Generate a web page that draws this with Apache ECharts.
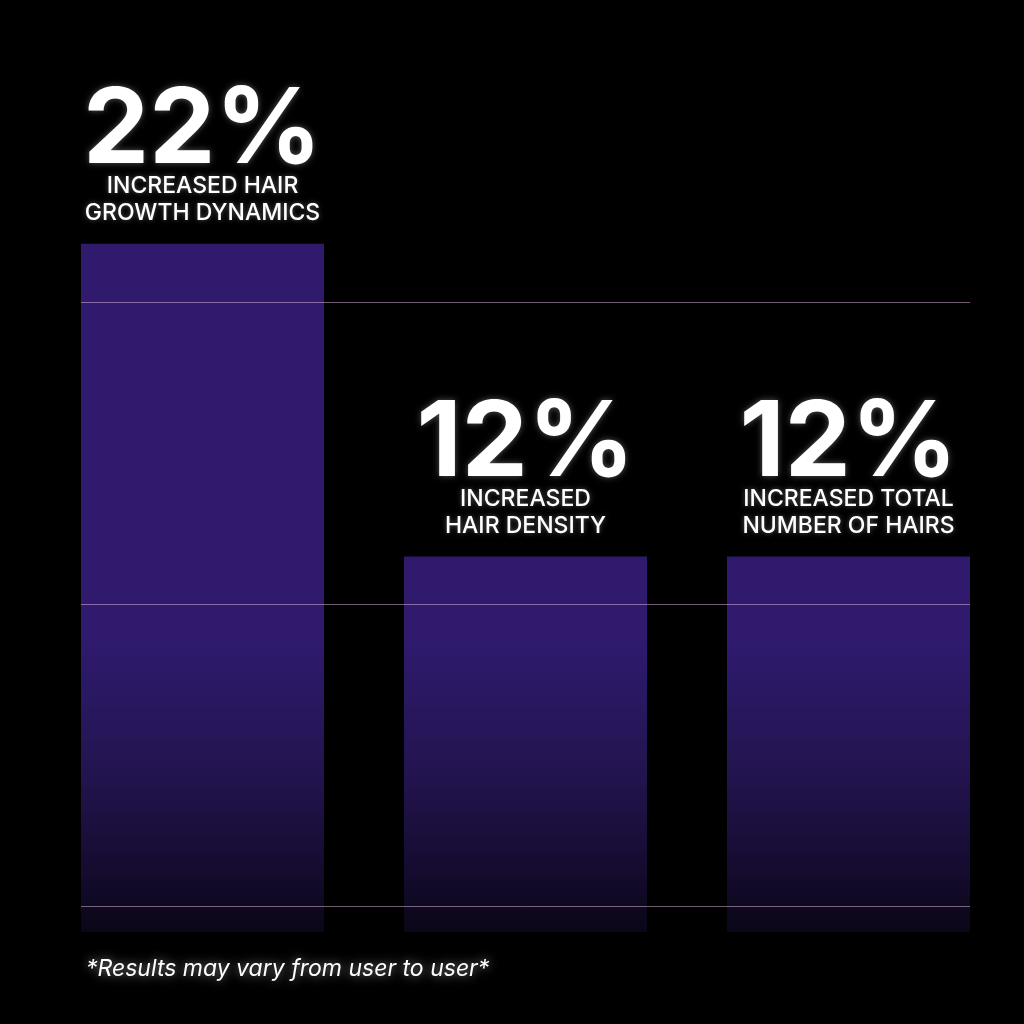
<!DOCTYPE html>
<html>
<head>
<meta charset="utf-8">
<script src="https://cdn.jsdelivr.net/npm/echarts@6/dist/echarts.min.js"></script>
<style>
  html, body { margin: 0; padding: 0; background: #000; }
  #chart { width: 1024px; height: 1024px; }
</style>
</head>
<body>
<div id="chart"></div>
<script>
// ---- data ----
const categories = ['INCREASED HAIR\nGROWTH DYNAMICS', 'INCREASED\nHAIR DENSITY', 'INCREASED TOTAL\nNUMBER OF HAIRS'];
const values = [22, 12, 12];
const footnote = '*Results may vary from user to user*';

const chart = echarts.init(document.getElementById('chart'));

const barGradient = {
  type: 'linear', x: 0, y: 640, x2: 0, y2: 935, global: true,
  colorStops: [
    { offset: 0, color: '#2f1a6e' },
    { offset: 0.45, color: '#23144f' },
    { offset: 0.8, color: '#140b2d' },
    { offset: 1, color: '#0a0616' }
  ]
};

chart.setOption({
  backgroundColor: '#000000',
  animation: false,
  title: {
    text: footnote,
    left: 81,
    top: 953,
    textStyle: {
      fontFamily: 'Inter',
      fontStyle: 'italic',
      fontWeight: 'normal',
      fontSize: 23,
      color: '#ffffff',
      textShadowColor: 'rgba(255,255,255,0.55)',
      textShadowBlur: 10
    }
  },
  grid: [
    { left: 41, right: 14, top: 56, bottom: 92 },
    { left: 81, right: 54, top: 302, bottom: 118 }
  ],
  xAxis: [
    { type: 'category', gridIndex: 0, data: categories, show: false },
    { type: 'value', gridIndex: 1, min: 0, max: 1, show: false }
  ],
  yAxis: [
    { type: 'value', gridIndex: 0, min: 0, max: 28, show: false },
    {
      type: 'value', gridIndex: 1, min: 0, max: 2, interval: 1, z: 5,
      axisLine: { show: false }, axisTick: { show: false }, axisLabel: { show: false },
      splitLine: { show: true, lineStyle: { color: 'rgba(225,190,225,0.5)', width: 1 } }
    }
  ],
  series: [{
    type: 'bar',
    xAxisIndex: 0,
    yAxisIndex: 0,
    data: values,
    barWidth: 243,
    itemStyle: { color: barGradient },
    label: {
      show: true,
      position: 'top',
      distance: 17,
      align: 'center',
      formatter: function (p) {
        return '{num|' + p.value + '%}\n{txt|' + p.name + '}';
      },
      rich: {
        num: {
          fontFamily: 'Inter', fontWeight: 'bold', fontSize: 105, lineHeight: 83,
          color: '#ffffff', align: 'center',
          textShadowColor: 'rgba(255,255,255,0.35)', textShadowBlur: 6
        },
        txt: {
          fontFamily: 'Inter', fontWeight: 500, fontSize: 23, lineHeight: 27,
          color: '#ffffff', align: 'center',
          textShadowColor: 'rgba(255,255,255,0.35)', textShadowBlur: 5
        }
      }
    }
  }]
});
</script>
</body>
</html>
